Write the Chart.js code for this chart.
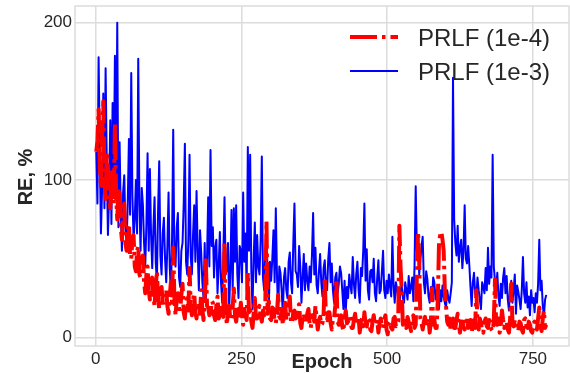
<!DOCTYPE html>
<html>
<head>
<meta charset="utf-8">
<script src="https://cdn.jsdelivr.net/npm/chart.js@4/dist/chart.umd.min.js"></script>
<style>
  html, body { margin: 0; padding: 0; background: #ffffff; }
  canvas { display: block; }
</style>
</head>
<body>
<canvas id="reChart" width="570" height="373"></canvas>
<script>
// Epochs are sampled every 2 (1, 3, 5, ... 773)
const EPOCH_START = 1;
const EPOCH_STEP = 2;

const seriesLabels = ['PRLF (1e-4)', 'PRLF (1e-3)'];
const xTicks = [0, 250, 500, 750];
const yTicks = [0, 100, 200];

// RE, % for learning rate 1e-4 (red, dash-dot)
const reLr1e4 = [
  118, 125, 145, 110, 95, 128, 150, 100, 88, 118, 108, 92, 82, 105, 100, 85, 136, 90, 75, 95,
  92, 70, 62, 78, 85, 60, 55, 68, 72, 52, 50, 62, 65, 45, 42, 55, 58, 40, 38, 50,
  52, 35, 28, 40, 45, 30, 24, 36, 38, 26, 20, 32, 42, 25, 18, 28, 32, 22, 22, 30,
  30, 20, 15, 26, 35, 22, 57, 25, 14, 24, 28, 18, 18, 27, 34, 16, 12, 22, 25, 17,
  44, 20, 14, 24, 28, 16, 12, 22, 22, 15, 30, 18, 11, 25, 49, 20, 19, 14, 15, 23,
  22, 14, 11, 20, 26, 12, 14, 21, 18, 13, 60, 18, 8, 16, 20, 11, 12, 19, 31, 14,
  10, 17, 18, 12, 22, 14, 8, 18, 14, 11, 41, 16, 19, 10, 6, 15, 25, 12, 12, 18,
  20, 13, 10, 17, 14, 22, 74, 15, 23, 12, 11, 19, 18, 10, 9, 16, 27, 13, 12, 18,
  8, 14, 22, 11, 12, 18, 26, 10, 9, 16, 17, 12, 13, 19, 21, 9, 6, 13, 15, 10,
  10, 15, 18, 9, 6, 14, 14, 10, 20, 12, 5, 11, 13, 8, 9, 15, 38, 12, 11, 16,
  16, 9, 5, 12, 12, 20, 37, 10, 8, 13, 14, 7, 4, 12, 17, 9, 10, 14, 13, 6,
  6, 11, 15, 8, 9, 13, 3, 10, 12, 7, 16, 9, 7, 12, 11, 5, 4, 10, 14, 8,
  8, 11, 3, 9, 12, 7, 6, 11, 14, 5, 2, 9, 10, 6, 5, 12, 13, 7, 8, 10,
  71, 45, 30, 8, 12, 9, 6, 13, 10, 7, 4, 11, 14, 6, 8, 40, 67, 50, 12, 9,
  5, 10, 13, 7, 9, 12, 3, 10, 31, 8, 11, 6, 6, 25, 60, 65, 67, 62, 55, 30,
  20, 10, 8, 12, 4, 9, 12, 6, 6, 11, 15, 8, 3, 10, 10, 7, 5, 12, 13, 6,
  7, 11, 3, 8, 11, 6, 30, 10, 5, 12, 9, 4, 3, 10, 12, 7, 6, 11, 10, 5,
  4, 10, 37, 9, 8, 12, 3, 8, 17, 11, 6, 9, 10, 5, 3, 12, 34, 9, 7, 11,
  11, 6, 4, 10, 9, 5, 3, 11, 12, 7, 6, 10, 8, 4, 3, 9, 10, 6, 5, 12,
  19, 7, 4, 12, 17, 6, 8
];

// RE, % for learning rate 1e-3 (blue, solid)
const reLr1e3 = [
  118, 85, 178, 120, 66, 95, 155, 82, 171, 110, 65, 90, 138, 72, 149, 100, 179, 95, 200, 70,
  124, 80, 55, 92, 103, 70, 60, 85, 126, 78, 168, 90, 62, 75, 100, 66, 177, 85, 55, 95,
  84, 60, 45, 72, 117, 55, 107, 65, 44, 70, 89, 48, 35, 80, 112, 52, 40, 66, 76, 50,
  35, 58, 92, 45, 28, 62, 132, 50, 45, 70, 79, 38, 32, 55, 60, 85, 123, 48, 40, 62,
  116, 52, 40, 65, 84, 48, 93, 55, 30, 68, 54, 35, 25, 60, 22, 50, 89, 45, 119, 58,
  70, 38, 57, 62, 28, 45, 67, 35, 22, 52, 89, 40, 43, 60, 18, 42, 81, 30, 82, 48,
  84, 40, 25, 58, 55, 35, 92, 48, 66, 30, 121, 55, 116, 42, 18, 50, 73, 35, 65, 45,
  40, 62, 115, 38, 30, 55, 64, 42, 20, 48, 36, 50, 68, 35, 82, 40, 15, 45, 41, 30,
  15, 38, 44, 30, 25, 48, 54, 35, 28, 60, 85, 42, 40, 32, 58, 45, 22, 38, 53, 30,
  47, 36, 30, 45, 35, 52, 79, 40, 57, 33, 28, 42, 53, 35, 26, 44, 49, 32, 30, 50,
  60, 35, 47, 30, 22, 38, 41, 28, 34, 45, 41, 30, 18, 36, 16, 32, 25, 40, 33, 28,
  51, 34, 25, 40, 48, 30, 22, 44, 39, 55, 85, 36, 56, 30, 24, 42, 43, 35, 50, 28,
  23, 38, 49, 28, 30, 42, 55, 30, 25, 36, 28, 40, 32, 26, 64, 33, 22, 35, 31, 24,
  20, 30, 33, 25, 22, 35, 30, 24, 39, 28, 32, 38, 23, 45, 96, 55, 65, 40, 49, 58,
  64, 35, 28, 42, 37, 26, 22, 32, 25, 38, 35, 24, 30, 27, 18, 30, 23, 33, 26, 22,
  19, 30, 25, 22, 28, 35, 165, 75, 60, 52, 71, 48, 57, 62, 44, 55, 84, 50, 47, 58,
  46, 32, 20, 35, 41, 28, 25, 38, 30, 24, 18, 35, 32, 28, 44, 30, 57, 34, 45, 38,
  116, 45, 36, 30, 41, 26, 20, 34, 25, 38, 44, 28, 39, 24, 17, 32, 36, 22, 30, 40,
  15, 33, 29, 24, 18, 30, 51, 28, 22, 35, 19, 26, 14, 30, 22, 25, 16, 28, 22, 34,
  62, 30, 36, 20, 14, 24, 27
];

const RED_DASH = [27, 5, 3.5, 5];
const TEXT_COLOR = '#262626';
const GRID_COLOR = '#dcdcdc';

function toPoints(values) {
  return values.map((v, i) => ({ x: EPOCH_START + i * EPOCH_STEP, y: v }));
}

// Frame, axis titles and the in-plot legend
const decorPlugin = {
  id: 'decor',
  beforeDatasetsDraw(chart) {
    const { ctx, chartArea: a } = chart;
    ctx.save();
    ctx.strokeStyle = GRID_COLOR;
    ctx.lineWidth = 1.5;
    ctx.strokeRect(a.left, a.top, a.right - a.left, a.bottom - a.top);
    ctx.restore();
  },
  afterDraw(chart) {
    const { ctx } = chart;
    ctx.save();
    ctx.fillStyle = TEXT_COLOR;
    ctx.font = 'bold 20px "Liberation Sans", Arial, sans-serif';
    ctx.textAlign = 'center';
    ctx.textBaseline = 'alphabetic';
    ctx.fillText('Epoch', 322, 368);
    ctx.translate(32, 177);
    ctx.rotate(-Math.PI / 2);
    ctx.fillText('RE, %', 0, 0);
    ctx.restore();

    // legend
    const ds = chart.data.datasets;
    const rows = [{ y: 37, base: 46 }, { y: 71, base: 80 }];
    ds.forEach((d, i) => {
      ctx.save();
      ctx.strokeStyle = d.borderColor;
      ctx.lineWidth = d.borderWidth;
      ctx.setLineDash(d.borderDash || []);
      ctx.lineCap = 'butt';
      ctx.beginPath();
      ctx.moveTo(350, rows[i].y);
      ctx.lineTo(398, rows[i].y);
      ctx.stroke();
      ctx.setLineDash([]);
      ctx.fillStyle = TEXT_COLOR;
      ctx.font = '24px "Liberation Sans", Arial, sans-serif';
      ctx.textAlign = 'left';
      ctx.textBaseline = 'alphabetic';
      ctx.fillText(d.label, 418, rows[i].base);
      ctx.restore();
    });
  }
};

const ctx = document.getElementById('reChart').getContext('2d');
new Chart(ctx, {
  type: 'line',
  data: {
    datasets: [
      {
        label: seriesLabels[0],
        data: toPoints(reLr1e4),
        borderColor: '#ff0000',
        borderWidth: 4,
        borderDash: RED_DASH,
        borderCapStyle: 'butt',
        borderJoinStyle: 'round',
        pointRadius: 0,
        tension: 0,
        fill: false
      },
      {
        label: seriesLabels[1],
        data: toPoints(reLr1e3),
        borderColor: '#0000ff',
        borderWidth: 2,
        borderJoinStyle: 'round',
        pointRadius: 0,
        tension: 0,
        fill: false
      }
    ]
  },
  options: {
    responsive: false,
    animation: false,
    devicePixelRatio: 1,
    layout: { padding: { top: 6, right: 1, left: 0, bottom: 0 } },
    plugins: {
      legend: { display: false },
      tooltip: { enabled: false }
    },
    scales: {
      x: {
        type: 'linear',
        min: -35.5,
        max: 812,
        afterFit(scale) {
          scale.height = 27;
          scale.paddingLeft = 0;
          scale.paddingRight = 0;
        },
        afterBuildTicks(scale) { scale.ticks = xTicks.map(v => ({ value: v })); },
        grid: { color: GRID_COLOR, lineWidth: 1.5, drawTicks: false },
        border: { display: false },
        ticks: {
          includeBounds: false,
          padding: 3,
          color: TEXT_COLOR,
          font: { family: '"Liberation Sans", Arial, sans-serif', size: 17 },
          maxRotation: 0
        }
      },
      y: {
        min: -5.5,
        max: 210.6,
        afterFit(scale) {
          scale.width = 75;
          scale.paddingTop = 0;
          scale.paddingBottom = 0;
        },
        afterBuildTicks(scale) { scale.ticks = yTicks.map(v => ({ value: v })); },
        grid: { color: GRID_COLOR, lineWidth: 1.5, drawTicks: false },
        border: { display: false },
        ticks: {
          includeBounds: false,
          padding: 3,
          color: TEXT_COLOR,
          font: { family: '"Liberation Sans", Arial, sans-serif', size: 17 }
        }
      }
    }
  },
  plugins: [decorPlugin]
});
</script>
</body>
</html>
